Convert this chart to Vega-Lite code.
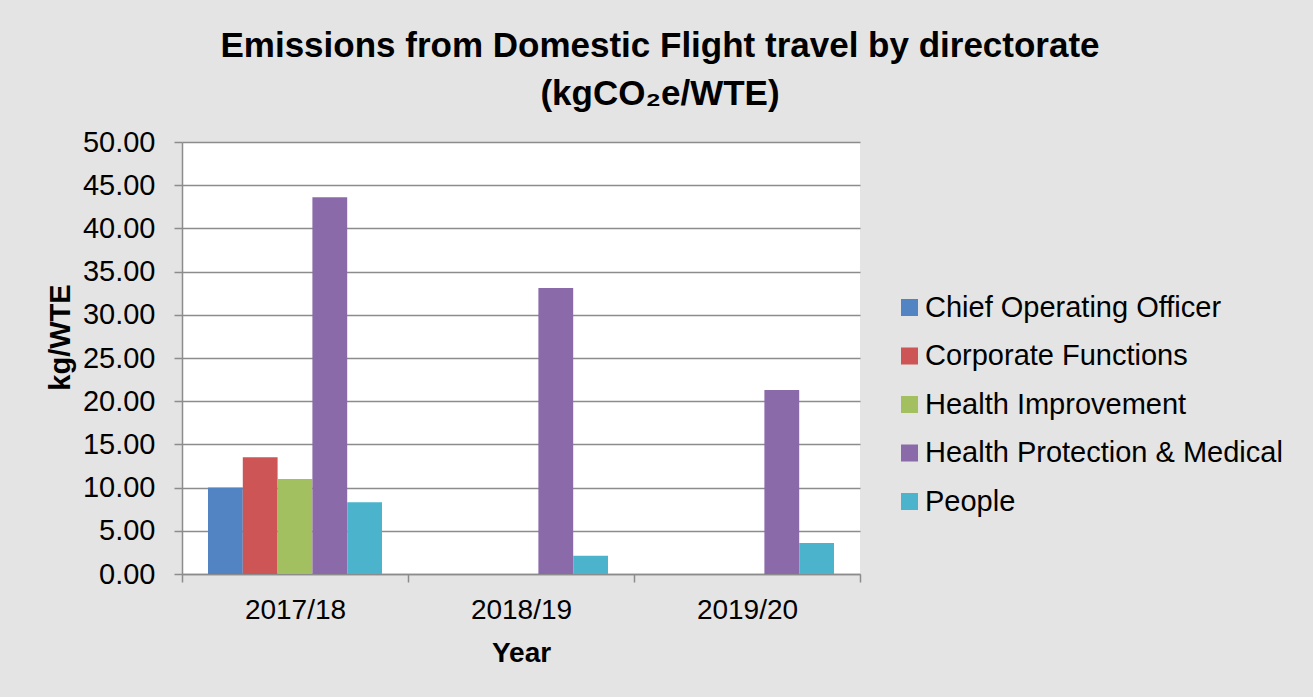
{
  "$schema": "https://vega.github.io/schema/vega-lite/v6.json",
  "autosize": {"type": "none"},
  "width": 678,
  "height": 432,
  "padding": {"left": 182, "top": 142, "right": 453, "bottom": 123},
  "background": "#e4e4e4",
  "title": {
    "text": ["Emissions from Domestic Flight travel by directorate", "(kgCO₂e/WTE)"],
    "font": "Liberation Sans",
    "fontSize": 35,
    "fontWeight": "bold",
    "color": "black",
    "anchor": "middle",
    "dx": 139,
    "lineHeight": 48,
    "offset": 16
  },
  "data": {
    "values": [
      {"Year": "2017/18", "Directorate": "Chief Operating Officer", "Value": 10.0},
      {"Year": "2017/18", "Directorate": "Corporate Functions", "Value": 13.5},
      {"Year": "2017/18", "Directorate": "Health Improvement", "Value": 11.0},
      {"Year": "2017/18", "Directorate": "Health Protection & Medical", "Value": 43.6},
      {"Year": "2017/18", "Directorate": "People", "Value": 8.3},
      {"Year": "2018/19", "Directorate": "Chief Operating Officer", "Value": 0},
      {"Year": "2018/19", "Directorate": "Corporate Functions", "Value": 0},
      {"Year": "2018/19", "Directorate": "Health Improvement", "Value": 0},
      {"Year": "2018/19", "Directorate": "Health Protection & Medical", "Value": 33.1},
      {"Year": "2018/19", "Directorate": "People", "Value": 2.1},
      {"Year": "2019/20", "Directorate": "Chief Operating Officer", "Value": 0},
      {"Year": "2019/20", "Directorate": "Corporate Functions", "Value": 0},
      {"Year": "2019/20", "Directorate": "Health Improvement", "Value": 0},
      {"Year": "2019/20", "Directorate": "Health Protection & Medical", "Value": 21.3},
      {"Year": "2019/20", "Directorate": "People", "Value": 3.6}
    ]
  },
  "mark": {"type": "bar"},
  "encoding": {
    "x": {
      "field": "Year",
      "type": "nominal",
      "scale": {"paddingInner": 0, "paddingOuter": 0},
      "axis": {
        "title": "Year",
        "titleFontSize": 28,
        "titleFontWeight": "bold",
        "titlePadding": 15,
        "labelFontSize": 28,
        "labelAngle": 0,
        "labelPadding": 14,
        "tickBand": "extent",
        "tickSize": 8,
        "tickColor": "#8c8c8c",
        "tickWidth": 1.5,
        "domainColor": "#8c8c8c",
        "domainWidth": 1.5,
        "grid": false
      }
    },
    "xOffset": {
      "field": "Directorate",
      "type": "nominal",
      "sort": ["Chief Operating Officer", "Corporate Functions", "Health Improvement", "Health Protection & Medical", "People"],
      "scale": {"paddingInner": 0, "paddingOuter": 0.747}
    },
    "y": {
      "field": "Value",
      "type": "quantitative",
      "scale": {"domain": [0, 50], "nice": false},
      "axis": {
        "title": "kg/WTE",
        "titleFontSize": 29,
        "titleFontWeight": "bold",
        "titleX": -122,
        "titleY": 195,
        "titleBaseline": "middle",
        "titleAngle": -90,
        "values": [0, 5, 10, 15, 20, 25, 30, 35, 40, 45, 50],
        "format": ".2f",
        "labelFontSize": 29,
        "labelPadding": 19,
        "tickSize": 8,
        "tickColor": "#8c8c8c",
        "tickWidth": 1.5,
        "domainColor": "#8c8c8c",
        "domainWidth": 1.5,
        "grid": true,
        "gridColor": "#8c8c8c",
        "gridWidth": 1.5
      }
    },
    "color": {
      "field": "Directorate",
      "type": "nominal",
      "sort": ["Chief Operating Officer", "Corporate Functions", "Health Improvement", "Health Protection & Medical", "People"],
      "scale": {"range": ["#5284c4", "#cd5555", "#a3c060", "#8a6aa8", "#4bb4cc"]},
      "legend": {
        "title": null,
        "orient": "none",
        "legendX": 713,
        "legendY": 151,
        "padding": 0,
        "symbolType": "square",
        "symbolSize": 289,
        "symbolStrokeWidth": 0,
        "symbolOpacity": 1,
        "labelFontSize": 29,
        "labelOffset": 1,
        "labelLimit": 500,
        "rowPadding": 18.5
      }
    }
  },
  "config": {
    "font": "Liberation Sans",
    "view": {"fill": "white", "stroke": null},
    "axis": {"labelColor": "black", "titleColor": "black", "labelFont": "Liberation Sans", "titleFont": "Liberation Sans"},
    "legend": {"labelColor": "black", "labelFont": "Liberation Sans"}
  }
}
